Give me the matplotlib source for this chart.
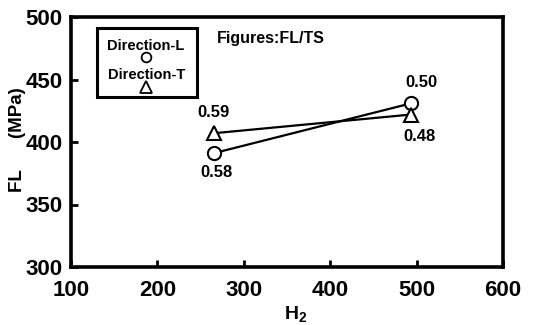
import matplotlib
matplotlib.use('Agg')
import matplotlib.pyplot as plt
from matplotlib.patches import Rectangle

plt.rcParams['font.family'] = ['Liberation Sans', 'DejaVu Sans']
plt.rcParams['font.weight'] = 'bold'
plt.rcParams['mathtext.default'] = 'regular'

# data
h2 = [265, 494]
fl_L = [391, 431]
fl_T = [407, 422]
lab_L = ['0.58', '0.50']
lab_T = ['0.59', '0.48']

fig = plt.figure(figsize=(5.38, 3.25), dpi=100)
ax = fig.add_axes([71/538, 1 - 267/325, 432/538, 250/325])

ax.plot(h2, fl_L, color='black', lw=1.6, marker='o', ms=9.5, mfc='white', mec='black', mew=1.5)
ax.plot(h2, fl_T, color='black', lw=1.6, marker='^', ms=10.5, mfc='white', mec='black', mew=1.5)

# value labels next to the points
kw = dict(textcoords='offset points', ha='center', va='center', fontsize=12, fontweight='bold')
ax.annotate(lab_L[0], (h2[0], fl_L[0]), xytext=(2, -14), **kw)
ax.annotate(lab_T[0], (h2[0], fl_T[0]), xytext=(0, 15), **kw)
ax.annotate(lab_L[1], (h2[1], fl_L[1]), xytext=(7, 15), **kw)
ax.annotate(lab_T[1], (h2[1], fl_T[1]), xytext=(6, -16), **kw)

ax.set_xlim(100, 600)
ax.set_ylim(300, 500)
ax.set_xticks([100, 200, 300, 400, 500, 600])
ax.set_yticks([300, 350, 400, 450, 500])
ax.tick_params(direction='in', length=5, width=2, labelsize=16)
ax.tick_params(axis='x', pad=9)
ax.tick_params(axis='y', pad=6)
for lbl in ax.get_xticklabels() + ax.get_yticklabels():
    lbl.set_fontweight('bold')
for s in ax.spines.values():
    s.set_linewidth(2.6)

ax.set_xlabel('H$_2$', fontsize=14, fontweight='bold')
ax.xaxis.set_label_coords(0.52, -0.19)
ax.xaxis.label.set_va('center')
ax.set_ylabel('FL      (MPa)', fontsize=13.5, fontweight='bold')
ax.yaxis.set_label_coords(-0.123, 0.51)
ax.yaxis.label.set_va('center')

# hand-drawn legend box
ax.add_patch(Rectangle((0.060, 0.68), 0.232, 0.276, transform=ax.transAxes,
                       fill=False, lw=2.2, ec='black'))
ax.text(0.174, 0.883, 'Direction-L', transform=ax.transAxes, ha='center', va='center',
        fontsize=10.5, fontweight='bold')
ax.plot([0.174], [0.84], transform=ax.transAxes, marker='o', ms=7, mfc='white',
        mec='black', mew=1.3, clip_on=False)
ax.text(0.174, 0.768, 'Direction-T', transform=ax.transAxes, ha='center', va='center',
        fontsize=10.5, fontweight='bold')
ax.plot([0.174], [0.722], transform=ax.transAxes, marker='^', ms=8, mfc='white',
        mec='black', mew=1.3, clip_on=False)

ax.text(0.338, 0.912, 'Figures:FL/TS', transform=ax.transAxes, ha='left', va='center',
        fontsize=11.5, fontweight='bold')

fig.savefig('out.png', dpi=100)
